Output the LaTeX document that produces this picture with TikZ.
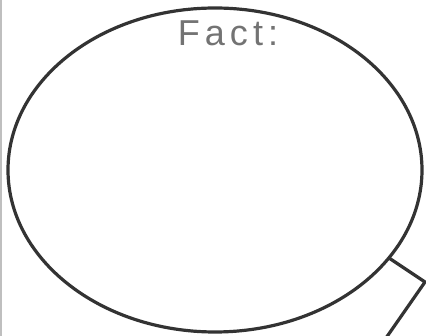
\documentclass[tikz,border=0pt]{standalone}
\usepackage{fontspec}
\setmainfont{Liberation Sans}
\usetikzlibrary{shapes.geometric}
\begin{document}
\begin{tikzpicture}[x=1pt,y=-1pt,
  outline/.style={draw=black!80,line width=3.2pt},
  label/.style={text=black!55,font=\fontsize{36}{36}\selectfont\addfontfeature{LetterSpace=14}}]
\useasboundingbox[fill=white] (0,0) rectangle (426,336);
\draw[black!25,line width=2pt] (1,0) -- (1,336);
\node[outline,ellipse,minimum width=414pt,minimum height=324pt,inner sep=0pt] (fact) at (215,170) {};
\coordinate (t1) at (389,258);
\coordinate (tip) at (425,282);
\coordinate (t2) at (386,338);
\draw[outline,line join=miter] (t1) -- (tip) -- (t2);
\node[label,anchor=north] (lbl) at (228,17) {Fact:};
\end{tikzpicture}
\end{document}
